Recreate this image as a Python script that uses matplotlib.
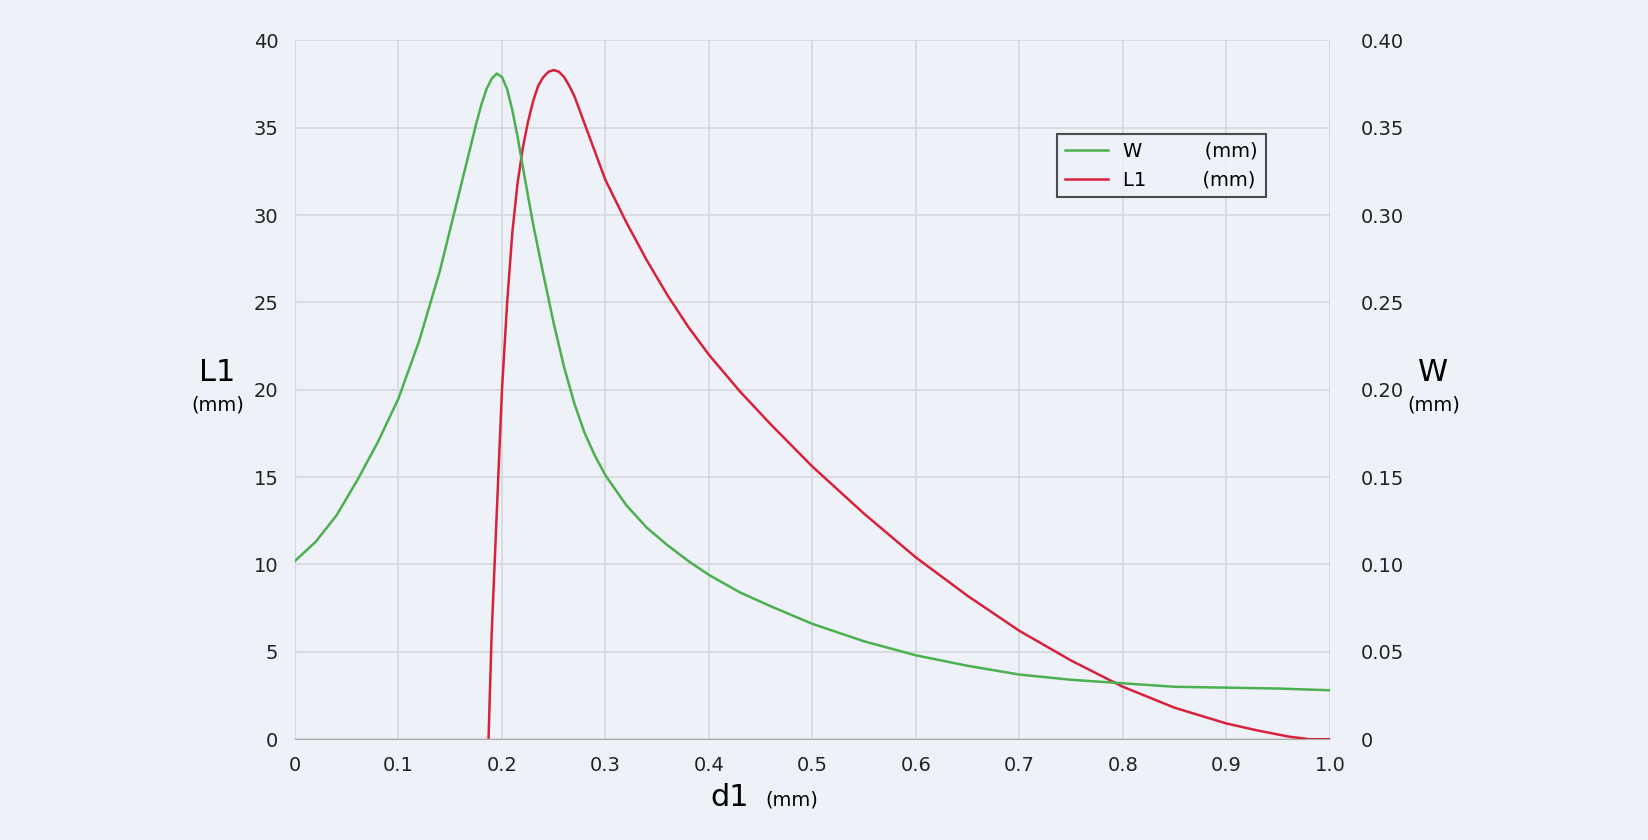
import matplotlib.pyplot as plt

# W curve, in mm (right axis)
w_d1 = [0.0, 0.02, 0.04, 0.06, 0.08, 0.1, 0.12, 0.14, 0.15, 0.16, 0.17, 0.175, 0.18, 0.185, 0.19,
        0.195, 0.2, 0.205, 0.21, 0.215, 0.22, 0.23, 0.24, 0.25, 0.26, 0.27, 0.28, 0.29, 0.3,
        0.32, 0.34, 0.36, 0.38, 0.4, 0.43, 0.46, 0.5, 0.55, 0.6, 0.65, 0.7, 0.75, 0.8,
        0.85, 0.9, 0.95, 1.0]
w_val = [0.102, 0.113, 0.128, 0.148, 0.170, 0.195, 0.228, 0.268, 0.292, 0.316, 0.340, 0.352, 0.363,
         0.372, 0.378, 0.381, 0.379, 0.372, 0.360, 0.345, 0.328, 0.295, 0.266, 0.238, 0.213,
         0.192, 0.175, 0.162, 0.151, 0.134, 0.121, 0.111, 0.102, 0.094, 0.084, 0.076, 0.066,
         0.056, 0.048, 0.042, 0.037, 0.034, 0.032, 0.030, 0.0295, 0.029, 0.028]

# L1 curve, in mm (left axis)
l1_d1 = [0.187, 0.19, 0.195, 0.2, 0.205, 0.21, 0.215, 0.22, 0.225, 0.23, 0.235, 0.24, 0.245,
         0.25, 0.255, 0.26, 0.265, 0.27, 0.28, 0.29, 0.3, 0.32, 0.34, 0.36, 0.38, 0.4, 0.43,
         0.46, 0.5, 0.55, 0.6, 0.65, 0.7, 0.75, 0.8, 0.85, 0.9, 0.93, 0.96, 0.98, 1.0]
l1_val = [0.0, 6.0, 13.0, 20.0, 25.0, 29.0, 31.8, 33.8, 35.3, 36.5, 37.4, 37.9, 38.2,
          38.3, 38.2, 37.9, 37.4, 36.8, 35.2, 33.6, 32.0, 29.6, 27.4, 25.4, 23.6, 22.0, 19.9,
          18.0, 15.6, 12.9, 10.4, 8.2, 6.2, 4.5, 3.0, 1.8, 0.9, 0.5, 0.15, 0.0, 0.0]

bg = '#eef2f8'
fig = plt.figure(figsize=(16.48, 8.40), dpi=100, facecolor=bg)
ax = fig.add_axes([0.179, 0.12, 0.628, 0.832], facecolor=bg)
ax2 = ax.twinx()

ax.set_xlim(0, 1.0)
ax.set_ylim(0, 40)
ax2.set_ylim(0, 0.40)
ax.set_xticks([i / 10 for i in range(11)])
ax.set_xticklabels(['0'] + ['0.%d' % i for i in range(1, 10)] + ['1.0'])
ax.set_yticks(range(0, 41, 5))
ax2.set_yticks([i / 20 for i in range(9)])
ax2.set_yticklabels(['0'] + ['%.2f' % (i / 20) for i in range(1, 9)])
ax.grid(True, color='#d4d7dc', linewidth=1.2)
for a in (ax, ax2):
    a.tick_params(length=0, labelsize=14, colors='#222222', pad=12)
    for s in a.spines.values():
        s.set_visible(False)
ax.spines['bottom'].set_visible(True)
ax.spines['bottom'].set_color('#aaaaaa')
ax.spines['left'].set_visible(True)
ax.spines['left'].set_color('#d4d7dc')
ax2.tick_params(axis='y', pad=22)

lw, = ax2.plot(w_d1, w_val, color='#4caf50', lw=1.8)
ll, = ax.plot(l1_d1, l1_val, color='#d8213a', lw=1.8)

ax.text(-0.075, 20.5, 'L1', fontsize=22, ha='center', clip_on=False)
ax.text(-0.075, 18.8, '(mm)', fontsize=14, ha='center', clip_on=False)
ax.text(1.1, 20.5, 'W', fontsize=22, ha='center', clip_on=False)
ax.text(1.1, 18.8, '(mm)', fontsize=14, ha='center', clip_on=False)
ax.text(0.42, -3.8, 'd1', fontsize=22, ha='center', clip_on=False)
ax.text(0.48, -3.8, '(mm)', fontsize=14, ha='center', clip_on=False)

leg = ax.legend([lw, ll], ['W          (mm)', 'L1         (mm)'], loc='upper left',
                bbox_to_anchor=(0.727, 0.88), fontsize=14, frameon=True, fancybox=False,
                handlelength=2.2, facecolor=bg)
leg.get_frame().set_edgecolor('#222222')
leg.get_frame().set_linewidth(1.5)

fig.savefig('out.png', dpi=100, facecolor=bg)
